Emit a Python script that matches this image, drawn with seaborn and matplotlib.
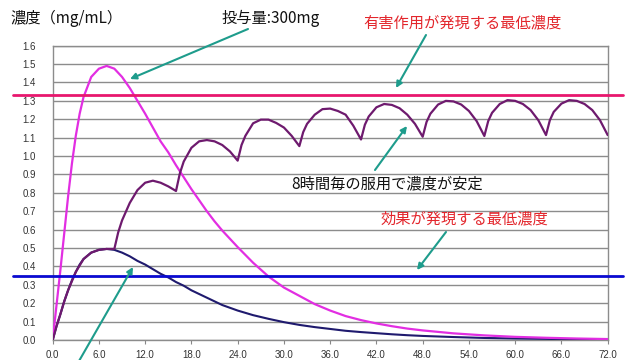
import matplotlib
matplotlib.use("Agg")
import matplotlib.pyplot as plt
import seaborn as sns
import pandas as pd

# ---- data ----
time_single = [0, 0.5, 1, 1.5, 2, 2.5, 3, 3.5, 4, 5, 6, 7, 8, 9, 10, 11, 12, 13, 14, 15, 16,
               17, 18, 19, 20, 21, 22, 23, 24, 26, 28, 30, 32, 34, 36, 38, 40, 42, 44, 46,
               48, 52, 56, 60, 64, 68, 72]
conc_100mg = [0, 0.075, 0.14, 0.21, 0.27, 0.325, 0.37, 0.41, 0.44, 0.475, 0.49, 0.495,
              0.49, 0.475, 0.455, 0.43, 0.41, 0.385, 0.36, 0.34, 0.315, 0.295, 0.27, 0.25,
              0.23, 0.21, 0.19, 0.175, 0.16, 0.135, 0.115, 0.097, 0.082, 0.07, 0.06, 0.05,
              0.043, 0.037, 0.031, 0.026, 0.022, 0.016, 0.011, 0.008, 0.006, 0.004, 0.003]
conc_300mg = [0, 0.19, 0.38, 0.58, 0.78, 0.96, 1.11, 1.23, 1.32, 1.43, 1.475, 1.49,
              1.475, 1.43, 1.37, 1.30, 1.23, 1.155, 1.08, 1.02, 0.95, 0.885, 0.82, 0.76,
              0.70, 0.645, 0.595, 0.55, 0.505, 0.42, 0.345, 0.285, 0.24, 0.195, 0.16, 0.13,
              0.108, 0.09, 0.075, 0.062, 0.052, 0.036, 0.025, 0.017, 0.012, 0.008, 0.005]

time_multi = [0, 0.5, 1, 1.5, 2, 3, 4, 5, 6, 7, 8,
              8.5, 9, 10, 11, 12, 13, 14, 15, 16,
              16.5, 17, 18, 19, 20, 21, 22, 23, 24,
              24.5, 25, 26, 27, 28, 29, 30, 31, 32,
              32.5, 33, 34, 35, 36, 37, 38, 39, 40,
              40.5, 41, 42, 43, 44, 45, 46, 47, 48,
              48.5, 49, 50, 51, 52, 53, 54, 55, 56,
              56.5, 57, 58, 59, 60, 61, 62, 63, 64,
              64.5, 65, 66, 67, 68, 69, 70, 71, 72]
conc_every8h = [0, 0.075, 0.14, 0.21, 0.27, 0.37, 0.44, 0.475, 0.49, 0.495, 0.495,
                0.585, 0.65, 0.745, 0.815, 0.855, 0.866, 0.855, 0.835, 0.81,
                0.906, 0.97, 1.045, 1.08, 1.087, 1.08, 1.06, 1.025, 0.975,
                1.06, 1.11, 1.178, 1.198, 1.198, 1.18, 1.155, 1.11, 1.054,
                1.13, 1.175, 1.225, 1.255, 1.258, 1.245, 1.225, 1.165, 1.09,
                1.17, 1.215, 1.265, 1.283, 1.278, 1.26, 1.225, 1.175, 1.105,
                1.185, 1.23, 1.28, 1.30, 1.297, 1.28, 1.245, 1.19, 1.109,
                1.19, 1.235, 1.283, 1.304, 1.30, 1.283, 1.25, 1.195, 1.114,
                1.195, 1.24, 1.285, 1.304, 1.30, 1.283, 1.25, 1.195, 1.114]

toxic_level = 1.33
effective_level = 0.35
x_ticks = [0, 6, 12, 18, 24, 30, 36, 42, 48, 54, 60, 66, 72]
y_ticks = [0.0, 0.1, 0.2, 0.3, 0.4, 0.5, 0.6, 0.7, 0.8, 0.9, 1.0, 1.1, 1.2, 1.3, 1.4, 1.5, 1.6]

# ---- style ----
sns.set_style("white")
plt.rcParams['font.family'] = ['Noto Sans CJK JP', 'DejaVu Sans']

fig = plt.figure(figsize=(6.4, 3.6), dpi=100)
ax = fig.add_axes([0.0823, 0.0556, 0.8672, 0.8175])

df_single = pd.DataFrame({"t": time_single, "c100": conc_100mg, "c300": conc_300mg})
df_multi = pd.DataFrame({"t": time_multi, "c": conc_every8h})

line_kw = dict(solid_joinstyle="round", solid_capstyle="round")
sns.lineplot(data=df_single, x="t", y="c100", ax=ax, color="#1f1a6e", lw=1.5, zorder=3, **line_kw)
sns.lineplot(data=df_single, x="t", y="c300", ax=ax, color="#e22ee2", lw=1.6, zorder=3, **line_kw)
sns.lineplot(data=df_multi, x="t", y="c", ax=ax, color="#6e1a6e", lw=1.6, zorder=4, **line_kw)

ax.set_xlim(0, 72)
ax.set_ylim(0, 1.6)
ax.set_xticks(x_ticks)
ax.set_xticklabels([f"{v:.1f}" for v in x_ticks], family="Liberation Sans", fontsize=7, color="#333333")
ax.set_yticks(y_ticks)
ax.set_yticklabels([f"{v:.1f}" for v in y_ticks], family="Liberation Sans", fontsize=7, color="#333333")
ax.tick_params(axis="x", length=3, width=0.8, color="#888888", pad=4, direction="out", bottom=True)
ax.tick_params(axis="y", length=0, pad=12)
ax.grid(axis="y", color="#8c8c8c", lw=1.0)
ax.set_axisbelow(True)
for s in ax.spines.values():
    s.set_color("#8c8c8c")
    s.set_linewidth(1.0)
ax.set_xlabel("")
ax.set_ylabel("")

# threshold lines extending beyond the plot area
ax.plot([-5.2, 74.0], [toxic_level, toxic_level], color="#e8176e", lw=2.0, clip_on=False, zorder=5)
ax.plot([-5.2, 74.0], [effective_level, effective_level], color="#0a0ad0", lw=2.0, clip_on=False, zorder=5)

# texts (figure pixel coordinates, origin top-left converted)
def ftxt(x, y, s, **kw):
    fig.text(x / 640, 1 - y / 360, s, va="center", **kw)

ftxt(10, 18, "濃度（mg/mL）", fontsize=11, color="#111111", ha="left")
ftxt(222, 18, "投与量:300mg", fontsize=11, color="#111111", ha="left")
ftxt(363, 23, "有害作用が発現する最低濃度", fontsize=11, color="#e3262c", ha="left")
ftxt(291, 184, "8時間毎の服用で濃度が安定", fontsize=11, color="#111111", ha="left")
ftxt(381, 219, "効果が発現する最低濃度", fontsize=11, color="#e3262c", ha="left")

teal = "#1e9c8c"
arrows = [((248, 29), (130, 79)),
          ((426, 35), (396, 88)),
          ((375, 170), (407, 126)),
          ((446, 232), (417, 270)),
          ((75, 368), (133, 267))]
for (x0, y0), (x1, y1) in arrows:
    ax.annotate("", xy=(x1, 360 - y1), xycoords="figure pixels",
                xytext=(x0, 360 - y0), textcoords="figure pixels",
                arrowprops=dict(arrowstyle="-|>", color=teal, lw=1.5, mutation_scale=9,
                                shrinkA=0, shrinkB=0),
                annotation_clip=False, zorder=6)

fig.savefig("out.png", dpi=100)
